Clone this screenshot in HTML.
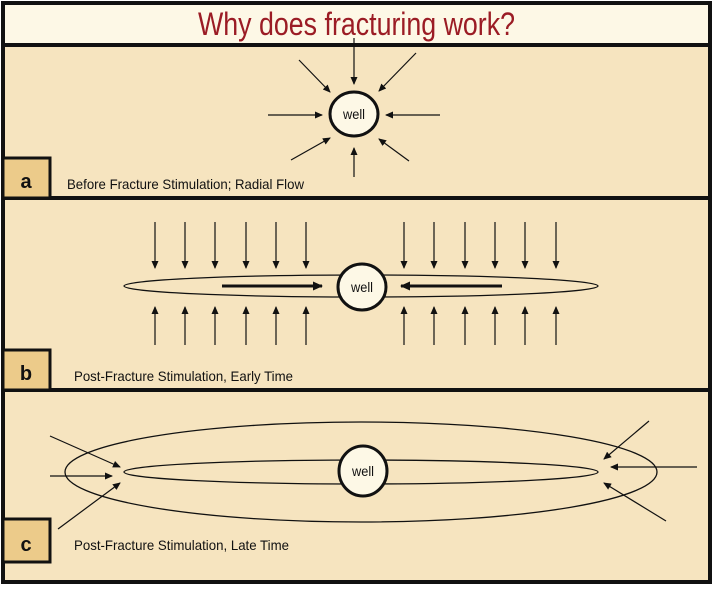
<!DOCTYPE html>
<html><head><meta charset="utf-8"><style>
html,body{margin:0;padding:0;background:#fff;}
svg{display:block;}
text{font-family:"Liberation Sans Narrow","Liberation Sans",sans-serif;}
</style></head><body>
<svg width="715" height="592" viewBox="0 0 715 592" xmlns="http://www.w3.org/2000/svg">
<defs>
<marker id="ah" markerWidth="8" markerHeight="8" refX="7" refY="4" orient="auto" markerUnits="userSpaceOnUse">
<path d="M0,0.5 L8,4 L0,7.5 Z" fill="#111"/></marker>
<marker id="ah2" markerWidth="10" markerHeight="10" refX="9" refY="5" orient="auto" markerUnits="userSpaceOnUse">
<path d="M0,0.5 L10,5 L0,9.5 Z" fill="#111"/></marker>
</defs>
<rect x="0" y="0" width="715" height="592" fill="#fff"/>
<rect x="3" y="3" width="707" height="42" fill="#fdf8e6" stroke="#111" stroke-width="4"/>
<text x="198" y="35" font-size="32" fill="#9b1c25" textLength="317" lengthAdjust="spacingAndGlyphs">Why does fracturing work?</text>
<rect x="3" y="45" width="707" height="153" fill="#f6e4bf" stroke="#111" stroke-width="4"/>
<rect x="3" y="198" width="707" height="192" fill="#f6e4bf" stroke="#111" stroke-width="4"/>
<rect x="3" y="390" width="707" height="192" fill="#f6e4bf" stroke="#111" stroke-width="4"/>
<rect x="3" y="158" width="47" height="40" fill="#eccb8a" stroke="#111" stroke-width="3"/>
<text x="26" y="188" font-size="20" font-weight="bold" text-anchor="middle" fill="#111">a</text>
<rect x="3" y="350" width="47" height="40" fill="#eccb8a" stroke="#111" stroke-width="3"/>
<text x="26" y="380" font-size="20" font-weight="bold" text-anchor="middle" fill="#111">b</text>
<rect x="3" y="519" width="47" height="43" fill="#eccb8a" stroke="#111" stroke-width="3"/>
<text x="26" y="551" font-size="20" font-weight="bold" text-anchor="middle" fill="#111">c</text>
<text x="67" y="189" font-size="14" fill="#111" textLength="237" lengthAdjust="spacingAndGlyphs">Before Fracture Stimulation; Radial Flow</text>
<text x="74" y="381" font-size="14" fill="#111" textLength="219" lengthAdjust="spacingAndGlyphs">Post-Fracture Stimulation, Early Time</text>
<text x="74" y="550" font-size="14" fill="#111" textLength="215" lengthAdjust="spacingAndGlyphs">Post-Fracture Stimulation, Late Time</text>
<g stroke="#111" stroke-width="1.2" marker-end="url(#ah)">
<line x1="354" y1="38" x2="354" y2="84"/>
<line x1="299" y1="60" x2="330" y2="92"/>
<line x1="416" y1="53" x2="379" y2="91"/>
<line x1="268" y1="115" x2="322" y2="115"/>
<line x1="440" y1="115" x2="386" y2="115"/>
<line x1="291" y1="160" x2="330" y2="138"/>
<line x1="409" y1="161" x2="379" y2="139"/>
<line x1="354" y1="177" x2="354" y2="148"/>
</g>
<ellipse cx="354" cy="114" rx="24" ry="22" fill="#fdf8e6" stroke="#111" stroke-width="3"/>
<text x="343" y="119" font-size="14" fill="#111" textLength="22" lengthAdjust="spacingAndGlyphs">well</text>
<ellipse cx="361" cy="286" rx="237" ry="11" fill="none" stroke="#111" stroke-width="1.3"/>
<g stroke="#111" stroke-width="1.2" marker-end="url(#ah)">
<line x1="155" y1="222" x2="155" y2="268"/><line x1="185" y1="222" x2="185" y2="268"/>
<line x1="215" y1="222" x2="215" y2="268"/><line x1="246" y1="222" x2="246" y2="268"/>
<line x1="276" y1="222" x2="276" y2="268"/><line x1="306" y1="222" x2="306" y2="268"/>
<line x1="404" y1="222" x2="404" y2="268"/><line x1="434" y1="222" x2="434" y2="268"/>
<line x1="465" y1="222" x2="465" y2="268"/><line x1="495" y1="222" x2="495" y2="268"/>
<line x1="525" y1="222" x2="525" y2="268"/><line x1="556" y1="222" x2="556" y2="268"/>
<line x1="155" y1="345" x2="155" y2="307"/><line x1="185" y1="345" x2="185" y2="307"/>
<line x1="215" y1="345" x2="215" y2="307"/><line x1="246" y1="345" x2="246" y2="307"/>
<line x1="276" y1="345" x2="276" y2="307"/><line x1="306" y1="345" x2="306" y2="307"/>
<line x1="404" y1="345" x2="404" y2="307"/><line x1="434" y1="345" x2="434" y2="307"/>
<line x1="465" y1="345" x2="465" y2="307"/><line x1="495" y1="345" x2="495" y2="307"/>
<line x1="525" y1="345" x2="525" y2="307"/><line x1="556" y1="345" x2="556" y2="307"/>
</g>
<g stroke="#111" stroke-width="3" marker-end="url(#ah2)">
<line x1="222" y1="286" x2="322" y2="286"/>
<line x1="502" y1="286" x2="401" y2="286"/>
</g>
<ellipse cx="362" cy="287" rx="24" ry="23" fill="#fdf8e6" stroke="#111" stroke-width="3"/>
<text x="351" y="292" font-size="14" fill="#111" textLength="22" lengthAdjust="spacingAndGlyphs">well</text>
<ellipse cx="361" cy="472" rx="296" ry="50" fill="none" stroke="#111" stroke-width="1.3"/>
<ellipse cx="361" cy="472" rx="237" ry="12" fill="none" stroke="#111" stroke-width="1.3"/>
<g stroke="#111" stroke-width="1.2" marker-end="url(#ah)">
<line x1="50" y1="436" x2="120" y2="467"/>
<line x1="50" y1="476" x2="112" y2="476"/>
<line x1="58" y1="529" x2="120" y2="483"/>
<line x1="649" y1="421" x2="604" y2="459"/>
<line x1="697" y1="467" x2="611" y2="467"/>
<line x1="666" y1="521" x2="604" y2="483"/>
</g>
<ellipse cx="363" cy="471" rx="24" ry="25" fill="#fdf8e6" stroke="#111" stroke-width="3"/>
<text x="352" y="476" font-size="14" fill="#111" textLength="22" lengthAdjust="spacingAndGlyphs">well</text>
</svg>
</body></html>
